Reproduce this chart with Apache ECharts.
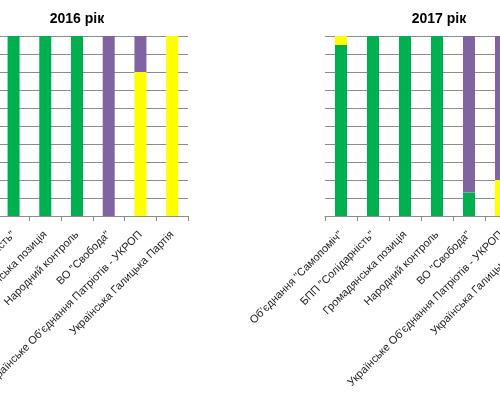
<!DOCTYPE html>
<html>
<head>
<meta charset="utf-8">
<script src="https://cdn.jsdelivr.net/npm/echarts@6/dist/echarts.min.js"></script>
<style>
html,body{margin:0;padding:0;width:500px;height:400px;overflow:hidden;background:#fff;}
#c{position:absolute;left:-100px;top:0;width:700px;height:400px;}
</style>
</head>
<body>
<div id="c"></div>
<script>
const categories = ['Об\u2019єднання "Самопоміч"', 'БПП "Солідарність"', 'Громадянська позиція', 'Народний контроль', 'ВО "Свобода"', 'Українське Об\u2019єднання Патріотів - УКРОП', 'Українська Галицька Партія'];
const titles = ['2016 рік', '2017 рік'];
const yTicks = [0, 10, 20, 30, 40, 50, 60, 70, 80, 90, 100];
const green2016 = [100, 100, 100, 100, 0, 0, 0];
const yellow2016 = [0, 0, 0, 0, 0, 80, 100];
const purple2016 = [0, 0, 0, 0, 100, 20, 0];
const green2017 = [95, 100, 100, 100, 13, 0, 0];
const yellow2017 = [5, 0, 0, 0, 0, 20, 100];
const purple2017 = [0, 0, 0, 0, 87, 80, 0];

const COLORS = {green: '#00B050', yellow: '#FFFF00', purple: '#8064A2'};
const gridColor = '#8c8c8c';

const chart = echarts.init(document.getElementById('c'), null, {renderer: 'canvas'});

function xAxis(gi) {
  return {
    type: 'category', gridIndex: gi, data: categories,
    axisLine: {show: true, lineStyle: {color: gridColor, width: 1}},
    axisTick: {show: true, length: 5, lineStyle: {color: gridColor}},
    axisLabel: {interval: 0, rotate: 45, margin: 17, fontSize: 11, color: '#1a1a1a',
      fontFamily: 'Liberation Sans, Arial, sans-serif'}
  };
}
function yAxis(gi) {
  return {
    type: 'value', gridIndex: gi, min: yTicks[0], max: yTicks[yTicks.length - 1], interval: yTicks[1] - yTicks[0],
    axisLine: {show: false}, axisTick: {show: false}, axisLabel: {show: false},
    splitLine: {show: true, lineStyle: {color: gridColor, width: 1}}
  };
}
function bar(name, data, color, gi, stack) {
  return {type: 'bar', name: name, data: data, stack: stack, xAxisIndex: gi, yAxisIndex: gi,
    barWidth: 12, itemStyle: {color: color}, silent: true};
}

chart.setOption({
  animation: false,
  grid: [
    {left: 66, top: 36, width: 222, height: 180, containLabel: false, outerBoundsMode: 'none'},
    {left: 425, top: 36, width: 224, height: 180, containLabel: false, outerBoundsMode: 'none'}
  ],
  xAxis: [xAxis(0), xAxis(1)],
  yAxis: [yAxis(0), yAxis(1)],
  series: [
    bar('Ряд1', green2016, COLORS.green, 0, 's16'),
    bar('Ряд2', yellow2016, COLORS.yellow, 0, 's16'),
    bar('Ряд3', purple2016, COLORS.purple, 0, 's16'),
    bar('Ряд1', green2017, COLORS.green, 1, 's17'),
    bar('Ряд2', yellow2017, COLORS.yellow, 1, 's17'),
    bar('Ряд3', purple2017, COLORS.purple, 1, 's17')
  ],
  graphic: [
    {type: 'text', x: 177, y: 19, style: {text: titles[0], fontSize: 14, fontWeight: 'bold',
      fontFamily: 'Liberation Sans, Arial, sans-serif', fill: '#000', align: 'center', verticalAlign: 'middle'}},
    {type: 'text', x: 539, y: 19, style: {text: titles[1], fontSize: 14, fontWeight: 'bold',
      fontFamily: 'Liberation Sans, Arial, sans-serif', fill: '#000', align: 'center', verticalAlign: 'middle'}}
  ]
});
</script>
</body>
</html>
